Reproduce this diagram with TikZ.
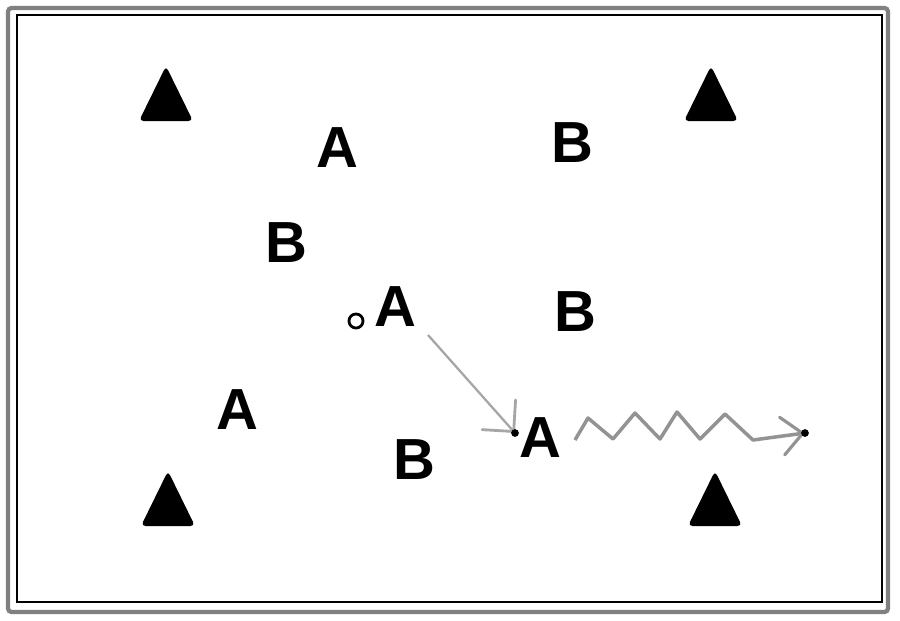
\documentclass[tikz,border=0pt]{standalone}
\usepackage{fontspec}
\setmainfont{Liberation Sans}
\usetikzlibrary{arrows.meta,positioning}

\begin{document}
\begin{tikzpicture}[
    x=0.02cm, y=-0.02cm,
    player/.style={inner sep=0pt, font=\fontsize{33}{33}\selectfont\bfseries},
    cone/.style={fill=black, rounded corners=2.5pt},
    pass/.style={draw=gray!70, line width=1.3pt, -{Straight Barb[angle=90:18pt, line width=1.6pt, line cap=round]}},
    dribble/.style={draw=gray!85, line width=2pt, line join=round, -{Straight Barb[angle=85:16pt, line width=1.8pt, line cap=round]}}
]

\useasboundingbox (0,0) rectangle (900,620);

% Field border
\draw[gray, line width=2.4pt, rounded corners=2pt] (8,8) rectangle (888,612);
\draw[black, line width=0.8pt] (17,15) rectangle (882,602);

% Cones
\foreach \x/\y in {166/94, 711/94, 168/499, 715/499}
    \fill[cone] (\x-27,\y+27) -- (\x,\y-28) -- (\x+27,\y+27) -- cycle;

% Players
\node[player] (a1) at (337,148) {A};
\node[player] (b1) at (572,143) {B};
\node[player] (b2) at (286,243) {B};
\node[player] (a2) at (395,307) {A};
\node[player] (b3) at (575,312) {B};
\node[player] (a3) at (237,410) {A};
\node[player] (b4) at (414,460) {B};
\node[player] (a4) at (540,438) {A};

% Ball
\node[draw, circle, line width=1.6pt, minimum size=8pt, inner sep=0pt] (ball) at (356,321) {};

% Pass from a2 to a4
\coordinate (passstart) at (428,335);
\coordinate (passend) at (515,433);
\draw[pass] (passstart) -- (passend);
\fill (passend) circle (2.2pt);

% Dribble of a4
\coordinate (dribblestart) at (575,440);
\coordinate (dribbleend) at (805,433);
\draw[dribble] (dribblestart) -- (588,418) -- (613,439) -- (635,413) -- (660,439)
    -- (677,412) -- (700,439) -- (725,414) -- (753,440) -- (dribbleend);
\fill (dribbleend) circle (2.2pt);

\end{tikzpicture}
\end{document}
